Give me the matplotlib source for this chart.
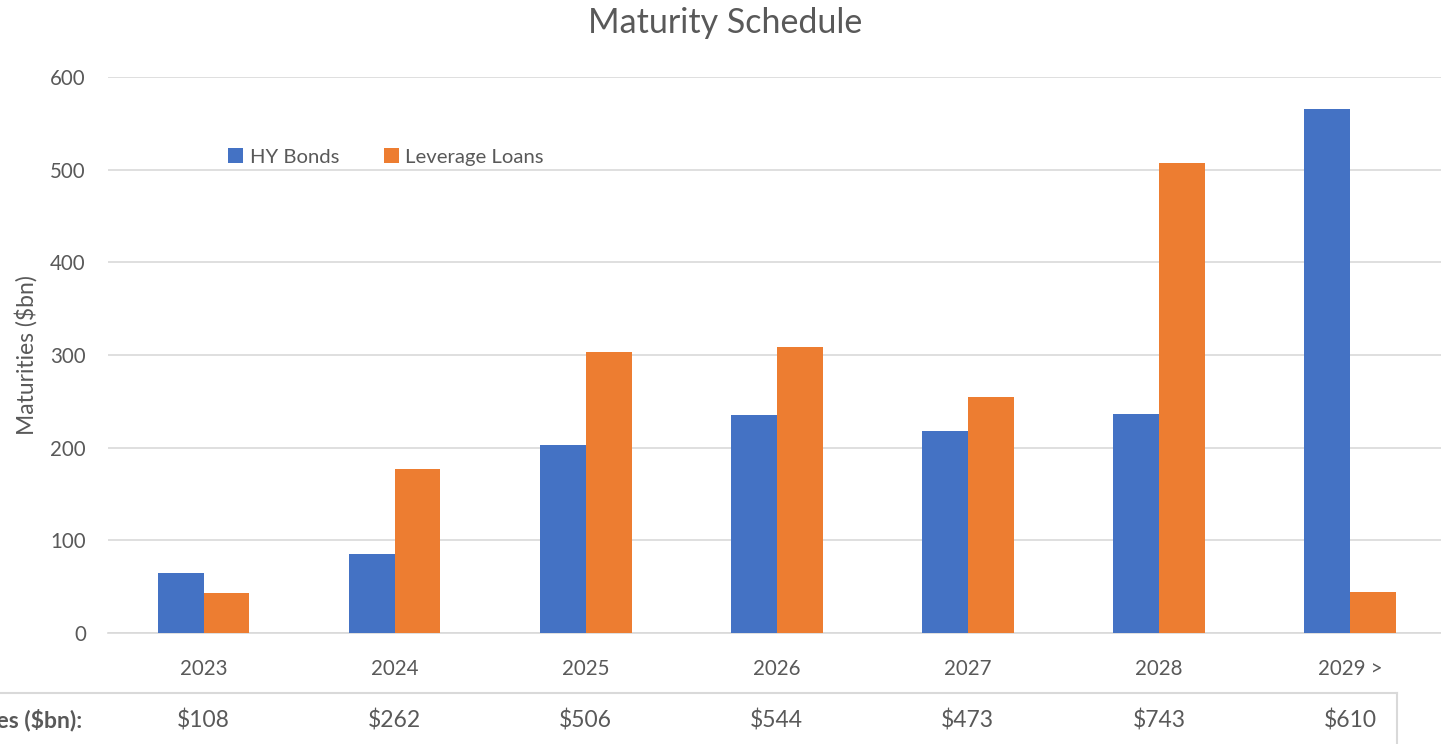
import matplotlib.pyplot as plt
import numpy as np

years = ["2023", "2024", "2025", "2026", "2027", "2028", "2029 >"]
hy_bonds = [65, 85, 203, 235, 218, 236, 566]
leverage_loans = [43, 177, 303, 309, 255, 507, 44]
totals = ["$108", "$262", "$506", "$544", "$473", "$743", "$610"]

plt.rcParams["font.family"] = ["Lato", "DejaVu Sans"]
grey = "#595959"
W, H = 1441, 744

fig = plt.figure(figsize=(W / 100, H / 100), dpi=100)
# axes in pixel terms: x from 108 to ~1445, y from 77 to 633
ax = fig.add_axes([108 / W, (H - 633) / H, (1445.5 - 108) / W, (633 - 77) / H])

x = np.arange(len(years))
w = 0.24
ax.bar(x - w / 2, hy_bonds, w, color="#4472c4", label="HY Bonds", zorder=3)
ax.bar(x + w / 2, leverage_loans, w, color="#ed7d31", label="Leverage Loans", zorder=3)

ax.set_xlim(-0.5, len(years) - 0.5)
ax.set_ylim(0, 600)
ax.set_yticks(range(0, 601, 100))
ax.set_xticks(x)
ax.set_xticklabels(years)
ax.grid(axis="y", color="#d9d9d9", linewidth=1.2, zorder=0)
for s in ["top", "right", "left"]:
    ax.spines[s].set_visible(False)
ax.spines["bottom"].set_color("#d9d9d9")
ax.spines["bottom"].set_linewidth(1.2)
ax.tick_params(length=0, labelsize=14.8, labelcolor=grey)
ax.tick_params(axis="x", pad=19)
ax.tick_params(axis="y", pad=16)
ax.set_ylabel("Maturities ($bn)", fontsize=16.5, color=grey, labelpad=9)

fig.text(725 / W, 1 - 23 / H, "Maturity Schedule", ha="center", va="center",
         fontsize=24.5, color=grey)

fig.legend(loc="center left", bbox_to_anchor=(210 / W, 1 - 157 / H), ncol=2,
           frameon=False, fontsize=14.6, handlelength=0.75, handleheight=0.75,
           handletextpad=0.3, columnspacing=2.2, labelcolor=grey)

# totals row below the chart
fig.add_artist(plt.Line2D([0, 1397 / W], [1 - 693 / H] * 2, color="#d9d9d9", lw=1.5))
fig.add_artist(plt.Line2D([1397 / W] * 2, [1 - 693 / H, 0], color="#d9d9d9", lw=1.5))
fig.text(82 / W, 1 - 720 / H, "Total Maturities ($bn):", ha="right", va="center",
         fontsize=16.5, fontweight="bold", color=grey)
for i, t in enumerate(totals):
    xp = ax.transData.transform((x[i], 0))[0] / W
    fig.text(xp, 1 - 720 / H, t, ha="center", va="center", fontsize=16.5, color=grey)

fig.savefig("out.png", dpi=100)
